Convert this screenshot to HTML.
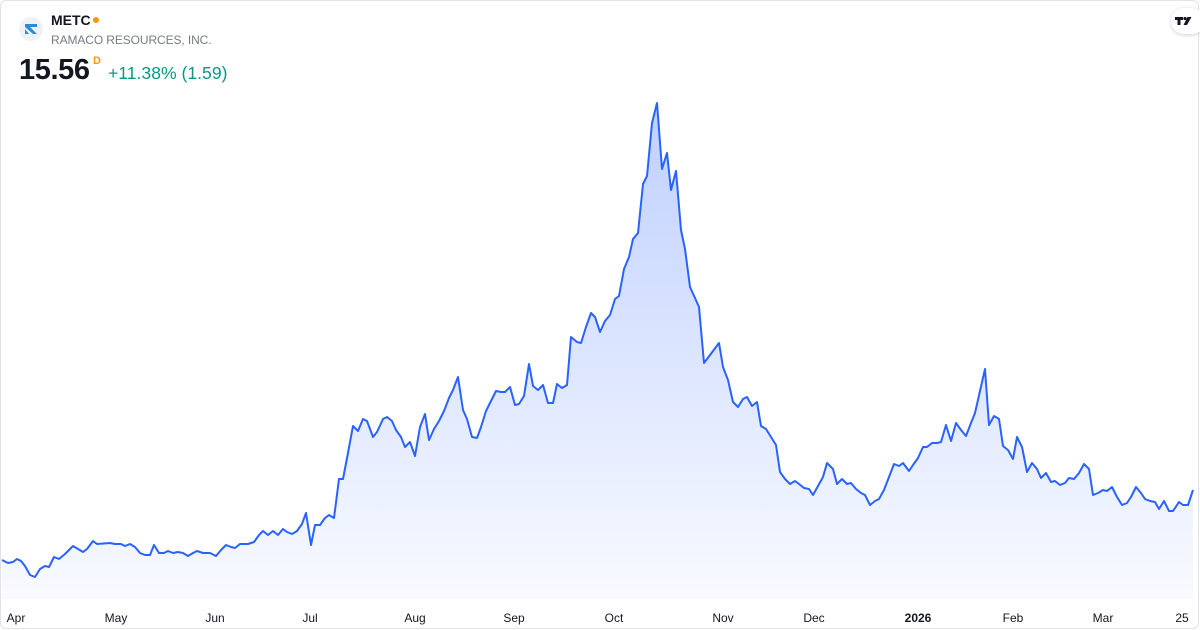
<!DOCTYPE html>
<html><head><meta charset="utf-8"><style>
html,body{margin:0;padding:0;background:#fff;}
body{width:1200px;height:630px;overflow:hidden;position:relative;font-family:"Liberation Sans",sans-serif;}
.frame{position:absolute;left:0;top:0;width:1197px;height:627px;border:1px solid #e0e3eb;border-radius:6px;}
.logo{position:absolute;left:19px;top:17px;width:24px;height:24px;border-radius:50%;background:#eef1f6;}
.sym{position:absolute;left:51px;top:12px;font-size:14px;font-weight:bold;color:#131722;}
.dot{position:absolute;left:93px;top:17px;width:6px;height:6px;border-radius:50%;background:#ff9800;}
.name{position:absolute;left:51px;top:33px;font-size:12px;color:#787b86;letter-spacing:-0.1px;}
.price{position:absolute;left:19px;top:54px;font-size:29px;font-weight:bold;color:#131722;letter-spacing:-0.4px;}
.d{position:absolute;left:93px;top:55px;font-size:11px;font-weight:bold;color:#ff9800;}
.chg{position:absolute;left:108px;top:63px;font-size:17.6px;color:#089981;}
.tv{position:absolute;left:1171px;top:8px;width:34px;height:26px;border-radius:13px;background:#fff;box-shadow:0 1px 4px rgba(0,0,0,0.18);}
.ax{position:absolute;top:611px;font-size:12px;color:#131722;transform:translateX(-50%);}
</style></head><body>
<div class="frame"></div>
<div class="logo"><svg width="24" height="24" viewBox="0 0 24 24"><path d="M6 7h12v3h-7l7 7h-4l-8-7z" fill="#2a8cd6"/><path d="M6 12l4 5H6z" fill="#2a8cd6"/></svg></div>
<div class="sym">METC</div>
<div class="dot"></div>
<div class="name">RAMACO RESOURCES, INC.</div>
<div class="price">15.56</div>
<div class="d">D</div>
<div class="chg">+11.38% (1.59)</div>
<div class="tv"><svg width="26" height="26" viewBox="0 0 26 26"><path d="M4 9h8v3h-2.5v5h-3v-5H4z" fill="#131722"/><circle cx="14" cy="10.5" r="1.6" fill="#131722"/><path d="M16.5 9h4l-4.5 8h-3.5z" fill="#131722"/></svg></div>
<svg style="position:absolute;left:0;top:0" width="1200" height="630">
<defs><linearGradient id="g" x1="0" y1="100" x2="0" y2="600" gradientUnits="userSpaceOnUse">
<stop offset="0" stop-color="#2962ff" stop-opacity="0.3"/><stop offset="1" stop-color="#2962ff" stop-opacity="0.03"/></linearGradient></defs>
<polygon id="fill" fill="url(#g)" points=""/>
<polyline id="line" fill="none" stroke="#2962ff" stroke-width="2" stroke-linejoin="round" points=""/>
</svg>
<div class="ax" style="left:16px">Apr</div>
<div class="ax" style="left:116px">May</div>
<div class="ax" style="left:215px">Jun</div>
<div class="ax" style="left:310px">Jul</div>
<div class="ax" style="left:415px">Aug</div>
<div class="ax" style="left:514px">Sep</div>
<div class="ax" style="left:614px">Oct</div>
<div class="ax" style="left:723px">Nov</div>
<div class="ax" style="left:814px">Dec</div>
<div class="ax" style="left:918px;font-weight:bold">2026</div>
<div class="ax" style="left:1013px">Feb</div>
<div class="ax" style="left:1103px">Mar</div>
<div class="ax" style="left:1182px">25</div>
<script>
var p="2,560 8,563 13,562 17,559 21,561 25,566 30,575 35,577 40,569 45,566 49,567 54,557 59,559 65,554 73,546 83,552 87,549 93,541 97,544 110,543 115,544 121,544 125,546 130,544 135,547 140,553 145,555 150,555 154,545 159,553 164,553 168,551 173,553 178,552 183,553 188,556 193,553 197,551 203,553 210,553 216,556 221,550 226,545 231,547 235,548 240,544 248,544 254,542 259,535 263,531 268,535 273,531 278,535 283,529 287,532 292,534 297,531 302,524 306,513 311,545 315,525 320,525 325,518 329,515 334,518 339,479 343,479 348,453 353,426 358,431 363,419 367,421 373,437 377,432 383,419 387,417 392,421 396,430 401,437 405,447 410,442 415,456 420,427 425,414 429,440 434,429 439,421 444,411 449,398 453,390 458,377 463,410 467,419 472,437 477,438 481,427 486,411 491,401 496,391 501,392 505,392 510,387 515,405 519,404 524,396 529,364 533,386 538,390 543,385 548,403 553,403 557,384 562,388 567,385 571,337 577,342 581,343 586,327 591,313 595,317 600,332 605,321 610,315 615,299 619,296 624,269 629,257 633,239 638,233 643,184 647,176 652,123 657,103 662,169 667,153 671,190 676,171 681,230 685,249 690,287 695,298 699,307 704,363 719,343 723,367 728,380 733,402 738,407 743,399 747,397 752,406 757,402 761,426 766,429 771,437 776,445 780,472 785,479 790,484 795,481 799,484 804,488 809,489 813,495 818,486 823,477 827,463 833,469 837,484 842,479 847,484 851,483 856,489 861,493 865,495 870,505 875,501 879,499 884,490 889,477 894,464 899,466 903,463 909,471 913,465 918,458 923,447 927,447 932,443 937,443 941,442 946,425 951,441 956,423 961,430 966,436 971,423 975,413 980,391 985,369 989,425 994,416 999,419 1003,446 1008,450 1013,459 1017,437 1022,447 1027,472 1032,463 1037,469 1041,478 1046,473 1051,482 1055,481 1060,485 1065,483 1069,478 1074,479 1079,473 1084,464 1089,469 1093,495 1098,493 1103,490 1107,491 1112,487 1117,497 1122,505 1127,503 1131,497 1136,487 1141,493 1145,499 1150,501 1155,502 1159,509 1164,501 1169,511 1173,511 1179,502 1183,505 1188,505 1193,490";
document.getElementById("line").setAttribute("points",p);
document.getElementById("fill").setAttribute("points",p+" 1193,599 2,599");
</script>
</body></html>
